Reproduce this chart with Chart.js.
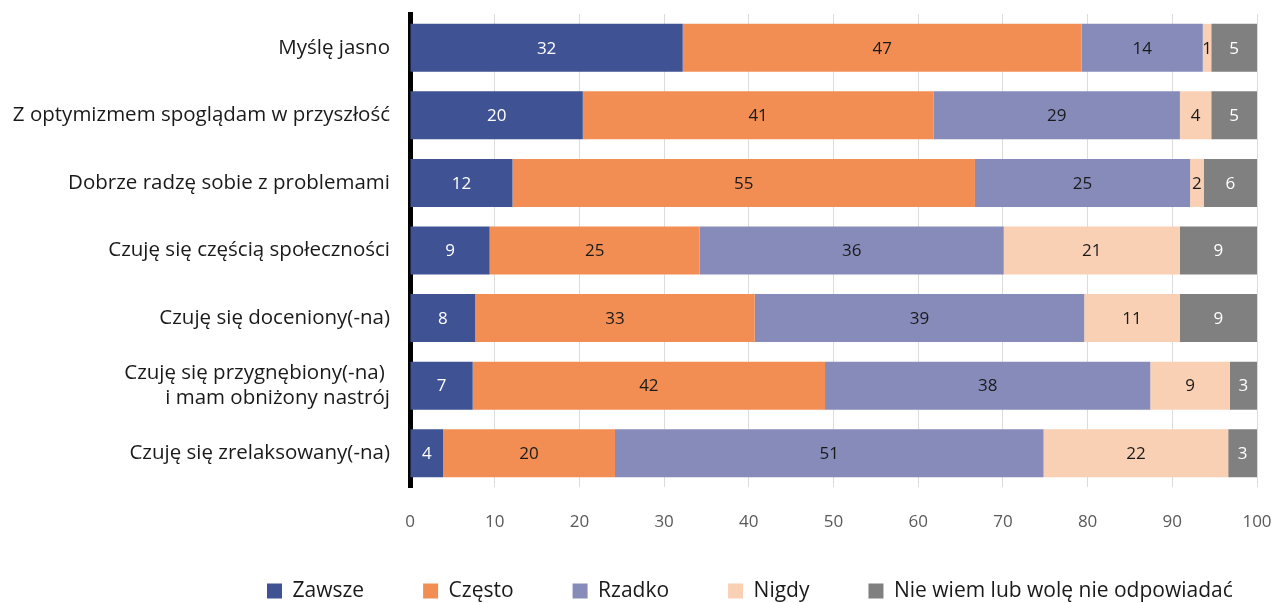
<!DOCTYPE html>
<html>
<head>
<meta charset="utf-8">
<script src="https://cdn.jsdelivr.net/npm/chart.js@4/dist/chart.umd.min.js"></script>
<style>
  html, body { margin: 0; padding: 0; background: #ffffff; }
  #wrap { width: 1272px; height: 603px; position: relative; }
</style>
</head>
<body>
<div id="wrap"><canvas id="c" width="1272" height="603"></canvas></div>
<script>
const categories = [
  "Myślę jasno",
  "Z optymizmem spoglądam w przyszłość",
  "Dobrze radzę sobie z problemami",
  "Czuję się częścią społeczności",
  "Czuję się doceniony(-na)",
  ["Czuję się przygnębiony(-na) ", "i mam obniżony nastrój"],
  "Czuję się zrelaksowany(-na)"
];
const seriesNames = ["Zawsze", "Często", "Rzadko", "Nigdy", "Nie wiem lub wolę nie odpowiadać"];
const zawsze  = [32.2, 20.4, 12.1,  9.4,  7.7,  7.4,  3.9];
const czesto  = [47.1, 41.4, 54.6, 24.8, 33.0, 41.6, 20.3];
const rzadko  = [14.3, 29.1, 25.4, 35.9, 38.9, 38.4, 50.6];
const nigdy   = [ 1.0,  3.7,  1.6, 20.8, 11.3,  9.4, 21.8];
const niewiem = [ 5.4,  5.4,  6.3,  9.1,  9.1,  3.2,  3.4];
const xTicks  = [0, 10, 20, 30, 40, 50, 60, 70, 80, 90, 100];

const colors = ["#3F5293", "#F28E54", "#868BB9", "#F9D0B4", "#808080"];
const labelColors = ["#ffffff", "#1a1a1a", "#1a1a1a", "#1a1a1a", "#ffffff"];
const FONT = "'Open Sans', 'DejaVu Sans', sans-serif";

const seriesData = [zawsze, czesto, rzadko, nigdy, niewiem];

const dataLabelPlugin = {
  id: 'segLabels',
  afterDatasetsDraw(chart) {
    const ctx = chart.ctx;
    ctx.save();
    ctx.font = "17px " + FONT;
    ctx.textAlign = 'center';
    ctx.textBaseline = 'middle';
    chart.data.datasets.forEach((ds, i) => {
      const meta = chart.getDatasetMeta(i);
      meta.data.forEach((bar, j) => {
        const p = bar.getProps(['x', 'y', 'base'], true);
        ctx.fillStyle = labelColors[i];
        ctx.fillText(String(Math.round(ds.data[j])), (p.x + p.base) / 2, p.y + 1);
      });
    });
    ctx.restore();
  }
};

const LEGEND_H = 60;
const legendPlace = {
  id: 'legendPlace',
  beforeLayout(chart) {
    const lg = chart.legend;
    if (lg && !lg._fixedFit) {
      const origFit = lg.fit.bind(lg);
      lg.fit = function () { origFit(); this.height = LEGEND_H; };
      lg._fixedFit = true;
    }
  },
  afterLayout(chart) {
    const lg = chart.legend;
    if (!lg || !lg.lineWidths) return;
    const pad = lg.options.labels.padding;
    const start = (lg.left + pad + lg.right - lg.lineWidths[0]) / 2;
    const dx = 267 - start;
    lg.left += dx; lg.right += dx;
    lg.width = lg.right - lg.left;
    lg.top = 591 - 10.5 - pad;
    lg.bottom = 620;
    lg.height = lg.bottom - lg.top;
  }
};

new Chart(document.getElementById('c'), {
  type: 'bar',
  data: {
    labels: categories,
    datasets: seriesData.map((d, i) => ({
      label: seriesNames[i],
      data: d,
      backgroundColor: colors[i],
      borderWidth: 0,
      barPercentage: 0.71,
      categoryPercentage: 1.0
    }))
  },
  options: {
    indexAxis: 'y',
    responsive: false,
    animation: false,
    layout: { padding: { top: 14, right: 15, bottom: 0, left: 0 } },
    scales: {
      x: {
        stacked: true,
        min: 0,
        max: 100,
        afterBuildTicks(scale) { scale.ticks = xTicks.map(v => ({ value: v })); },
        afterFit(scale) { scale.height = 56; scale.paddingLeft = 0; scale.paddingRight = 0; },
        grid: { color: "#DCDCDC", lineWidth: 1, drawTicks: false },
        border: { display: false },
        ticks: { color: "#595959", font: { family: FONT, size: 17 }, padding: 25 }
      },
      y: {
        stacked: true,
        z: 1,
        afterFit(scale) { scale.width = 410; scale.paddingTop = 0; scale.paddingBottom = 0; },
        grid: { display: false, drawTicks: false },
        border: { display: true, color: "#000000", width: 5 },
        ticks: { color: "#1a1a1a", font: { family: FONT, size: 20.5 }, padding: 20 }
      }
    },
    plugins: {
      legend: {
        position: 'bottom',
        labels: {
          boxWidth: 15,
          boxHeight: 15,
          padding: 59,
          color: "#1a1a1a",
          font: { family: FONT, size: 21 }
        }
      },
      tooltip: { enabled: false }
    }
  },
  plugins: [dataLabelPlugin, legendPlace]
});
</script>
</body>
</html>
